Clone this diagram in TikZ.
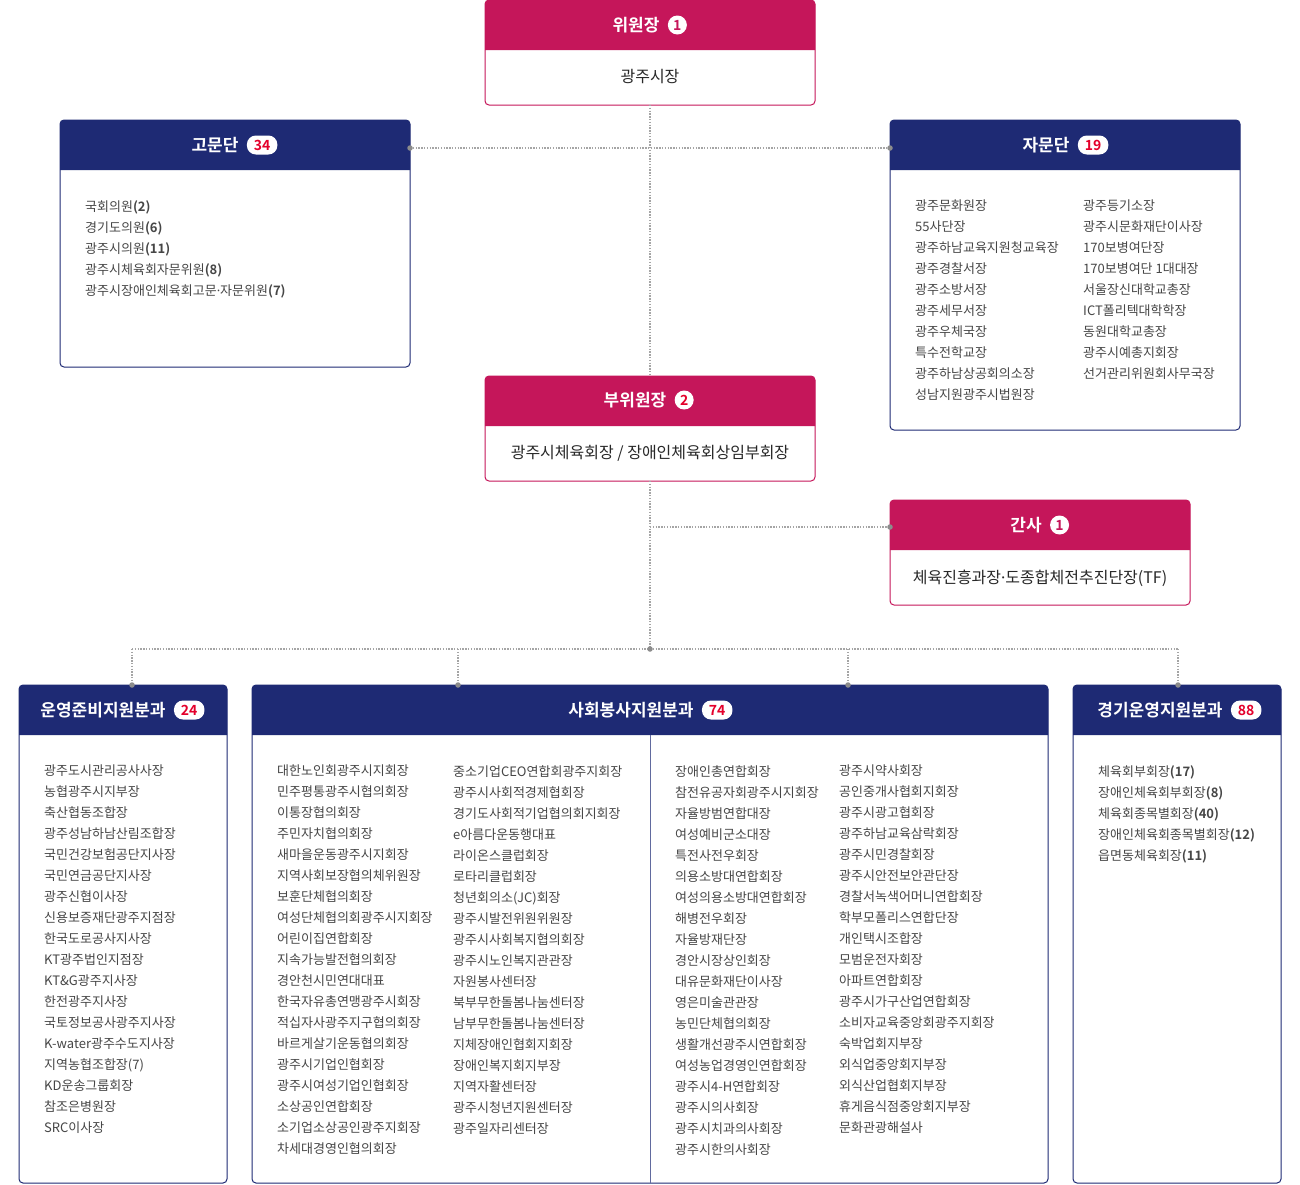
\documentclass[tikz,border=0pt]{standalone}
\usepackage{fontspec}
\setmainfont{Noto Sans CJK KR}[BoldFont={Noto Sans CJK KR Bold}]
\newfontfamily\dotfont{Noto Sans}
\newcommand\mdot{{\dotfont ·}}
\usetikzlibrary{positioning}
\definecolor{mag}{RGB}{197,22,90}
\definecolor{navy}{RGB}{30,42,116}
\definecolor{badgered}{RGB}{228,0,43}
\definecolor{conngray}{RGB}{165,165,165}
\definecolor{dotgray}{RGB}{140,140,140}
\definecolor{txt}{RGB}{70,70,70}
\definecolor{maintxt}{RGB}{40,40,40}
\tikzset{
  boxframe/.style={draw=#1, line width=1pt, rounded corners=4pt, fill=white, inner sep=0pt, outer sep=0pt, anchor=north west},
  hdrtitle/.style={text=white, font=\bfseries\fontsize{17pt}{17pt}\selectfont, inner sep=0pt},
  pill/.style={fill=white, text=badgered, rounded corners=9pt, font=\bfseries\fontsize{14pt}{14pt}\selectfont, inner xsep=7pt, inner ysep=0pt, minimum height=19pt},
  roundbadge/.style={circle, fill=white, text=#1, font=\bfseries\fontsize{14pt}{14pt}\selectfont, minimum size=19pt, inner sep=0pt},
  maintext/.style={text=maintxt, font=\fontsize{16pt}{16pt}\selectfont, inner sep=0pt},
  listtext/.style={text=txt, font=\fontsize{13pt}{21pt}\selectfont, align=left, anchor=north west, inner sep=0pt},
  conn/.style={draw=conngray, line width=1.3pt, dash pattern=on 1.3pt off 1.5pt},
  jdot/.style={circle, fill=dotgray, inner sep=0pt, minimum size=5.5pt},
}
\newcommand\orgbox[6]{%
  \node[boxframe=#6, minimum width={#4-#2}, minimum height={#5-#3}] (#1) at (#2,#3) {};
  \fill[#6] (#2,{#3+50}) [rounded corners=4pt] -- (#2,#3) -- (#4,#3) [sharp corners] -- (#4,{#3+50}) -- cycle;
}
\begin{document}
\begin{tikzpicture}[x=1pt,y=-1pt]
\useasboundingbox (0,0) rectangle (1300,1184);
\fill[white] (0,0) rectangle (1300,1184);

% ---------- boxes ----------
\orgbox{wj}{485}{0}{815}{105}{mag}
\node[hdrtitle] (wjt) at (636,25) {위원장};
\node[roundbadge=mag, right=8pt of wjt] (wjb) {1};
\node[maintext] (wjm) at (650,77) {광주시장};

\orgbox{gm}{60}{120}{410}{367}{navy}
\node[hdrtitle] (gmt) at (215,145) {고문단};
\node[pill, right=8pt of gmt] (gmb) {34};
\node[listtext] (gml) at (85,200) {국회의원\textbf{(2)}\\경기도의원\textbf{(6)}\\광주시의원\textbf{(11)}\\광주시체육회자문위원\textbf{(8)}\\광주시장애인체육회고문\mdot 자문위원\textbf{(7)}};

\orgbox{jm}{890}{120}{1240}{430}{navy}
\node[hdrtitle] (jmt) at (1046,145) {자문단};
\node[pill, right=8pt of jmt] (jmb) {19};
\node[listtext] (jml1) at (915,200) {광주문화원장\\55사단장\\광주하남교육지원청교육장\\광주경찰서장\\광주소방서장\\광주세무서장\\광주우체국장\\특수전학교장\\광주하남상공회의소장\\성남지원광주시법원장};
\node[listtext] (jml2) at (1083,200) {광주등기소장\\광주시문화재단이사장\\170보병여단장\\170보병여단 1대대장\\서울장신대학교총장\\ICT폴리텍대학학장\\동원대학교총장\\광주시예총지회장\\선거관리위원회사무국장};

\orgbox{bwj}{485}{376}{815}{481}{mag}
\node[hdrtitle] (bwjt) at (635,400) {부위원장};
\node[roundbadge=badgered, right=8pt of bwjt] (bwjb) {2};
\node[maintext] (bwjm) at (650,453) {광주시체육회장 / 장애인체육회상임부회장};

\orgbox{gs}{890}{500}{1190}{605}{mag}
\node[hdrtitle] (gst) at (1026,525) {간사};
\node[roundbadge=mag, right=8pt of gst] (gsb) {1};
\node[maintext] (gsm) at (1040,578) {체육진흥과장\mdot 도종합체전추진단장(TF)};

\orgbox{b1}{19}{685}{227}{1183}{navy}
\node[hdrtitle] (b1t) at (103,710) {운영준비지원분과};
\node[pill, right=8pt of b1t] (b1b) {24};
\node[listtext] (b1l) at (44,765) {광주도시관리공사사장\\농협광주시지부장\\축산협동조합장\\광주성남하남산림조합장\\국민건강보험공단지사장\\국민연금공단지사장\\광주신협이사장\\신용보증재단광주지점장\\한국도로공사지사장\\KT광주법인지점장\\KT\&G광주지사장\\한전광주지사장\\국토정보공사광주지사장\\K-water광주수도지사장\\지역농협조합장(7)\\KD운송그룹회장\\참조은병원장\\SRC이사장};

\orgbox{b2}{252}{685}{1048}{1183}{navy}
\draw[navy!70, line width=0.8pt] (650,735) -- (650,1183);
\node[hdrtitle] (b2t) at (631,710) {사회봉사지원분과};
\node[pill, right=8pt of b2t] (b2b) {74};
\node[listtext] (b2l1) at (277,765) {대한노인회광주시지회장\\민주평통광주시협의회장\\이통장협의회장\\주민자치협의회장\\새마을운동광주시지회장\\지역사회보장협의체위원장\\보훈단체협의회장\\여성단체협의회광주시지회장\\어린이집연합회장\\지속가능발전협의회장\\경안천시민연대대표\\한국자유총연맹광주시회장\\적십자사광주지구협의회장\\바르게살기운동협의회장\\광주시기업인협회장\\광주시여성기업인협회장\\소상공인연합회장\\소기업소상공인광주지회장\\차세대경영인협의회장};
\node[listtext] (b2l2) at (453,765) {중소기업CEO연합회광주지회장\\광주시사회적경제협회장\\경기도사회적기업협의회지회장\\e아름다운동행대표\\라이온스클럽회장\\로타리클럽회장\\청년회의소(JC)회장\\광주시발전위원위원장\\광주시사회복지협의회장\\광주시노인복지관관장\\자원봉사센터장\\북부무한돌봄나눔센터장\\남부무한돌봄나눔센터장\\지체장애인협회지회장\\장애인복지회지부장\\지역자활센터장\\광주시청년지원센터장\\광주일자리센터장};
\node[listtext] (b2l3) at (675,765) {장애인총연합회장\\참전유공자회광주시지회장\\자율방범연합대장\\여성예비군소대장\\특전사전우회장\\의용소방대연합회장\\여성의용소방대연합회장\\해병전우회장\\자율방재단장\\경안시장상인회장\\대유문화재단이사장\\영은미술관관장\\농민단체협의회장\\생활개선광주시연합회장\\여성농업경영인연합회장\\광주시4-H연합회장\\광주시의사회장\\광주시치과의사회장\\광주시한의사회장};
\node[listtext] (b2l4) at (839,765) {광주시약사회장\\공인중개사협회지회장\\광주시광고협회장\\광주하남교육삼락회장\\광주시민경찰회장\\광주시안전보안관단장\\경찰서녹색어머니연합회장\\학부모폴리스연합단장\\개인택시조합장\\모범운전자회장\\아파트연합회장\\광주시가구산업연합회장\\소비자교육중앙회광주지회장\\숙박업회지부장\\외식업중앙회지부장\\외식산업협회지부장\\휴게음식점중앙회지부장\\문화관광해설사};

\orgbox{b3}{1073}{685}{1281}{1183}{navy}
\node[hdrtitle] (b3t) at (1160,710) {경기운영지원분과};
\node[pill, right=8pt of b3t] (b3b) {88};
\node[listtext] (b3l) at (1098,765) {체육회부회장\textbf{(17)}\\장애인체육회부회장\textbf{(8)}\\체육회종목별회장\textbf{(40)}\\장애인체육회종목별회장\textbf{(12)}\\읍면동체육회장\textbf{(11)}};

% ---------- connectors ----------
\coordinate (jA) at (650,148);
\coordinate (jB) at (650,527);
\coordinate (jC) at (650,649);
\coordinate (bL) at (132,649);
\coordinate (bR) at (1178,649);
\coordinate (bS1) at (458,649);
\coordinate (bS2) at (848,649);

\draw[conn] (wj.south) -- (bwj.north);
\draw[conn] (gm.east |- jA) -- (jm.west |- jA);
\draw[conn] (bwj.south) -- (jC);
\draw[conn] (jB) -- (gs.west |- jB);
\draw[conn] (bL) -- (bR);
\draw[conn] (bL) -- (bL |- b1.north);
\draw[conn] (bS1) -- (bS1 |- b2.north);
\draw[conn] (bS2) -- (bS2 |- b2.north);
\draw[conn] (bR) -- (bR |- b3.north);

\node[jdot] at (gm.east |- jA) {};
\node[jdot] at (jm.west |- jA) {};
\node[jdot] at (gs.west |- jB) {};
\node[jdot] at (jC) {};
\node[jdot] at (bL |- b1.north) {};
\node[jdot] at (bS1 |- b2.north) {};
\node[jdot] at (bS2 |- b2.north) {};
\node[jdot] at (bR |- b3.north) {};
\end{tikzpicture}
\end{document}
